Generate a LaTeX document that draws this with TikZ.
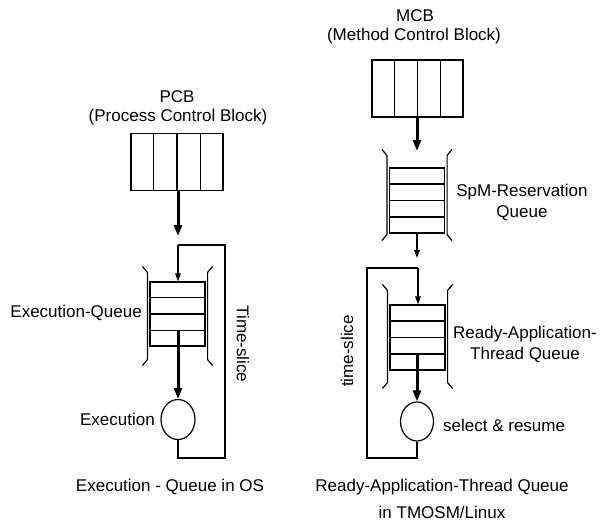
\documentclass[tikz,border=0pt]{standalone}
\usepackage{fontspec}
\setmainfont{Liberation Sans}
\usetikzlibrary{arrows.meta,calc,shapes.geometric}
\tikzset{
  lbl/.style={font=\fontsize{17}{21}\selectfont, inner sep=0pt, align=center},
  blk/.style={draw, line width=1.2pt, inner sep=0pt, minimum width=#1, minimum height=57pt},
  que/.style={draw, line width=1.2pt, inner sep=0pt, minimum width=55pt, minimum height=#1},
  proc/.style={draw, ellipse, line width=1.2pt, inner sep=0pt, minimum width=34pt, minimum height=40pt},
  thin/.style={line width=1.2pt},
  thk/.style={line width=3pt, -{Triangle[length=11pt,width=8pt]}},
  thn/.style={line width=1.4pt, -{Triangle[length=8pt,width=5.5pt]}},
  loopline/.style={line width=1.8pt}
}
\newcommand{\cells}[1]{%
  \foreach \f in {0.25,0.5,0.75}{%
    \draw[thin] ($(#1.north west)!\f!(#1.north east)$) -- ($(#1.south west)!\f!(#1.south east)$);}}
\newcommand{\rows}[1]{%
  \foreach \f in {0.25,0.5,0.75}{%
    \draw[thin] ($(#1.north west)!\f!(#1.south west)$) -- ($(#1.north east)!\f!(#1.south east)$);}}
% #1 node, #2 top extent, #3 bottom extent
\newcommand{\qbr}[3]{%
  \draw[thin] ([xshift=-7pt,yshift=#2pt]#1.north west) -- ([xshift=-2pt,yshift=#2pt-6pt]#1.north west)
     -- ([xshift=-2pt,yshift=-#3pt+6pt]#1.south west) -- ([xshift=-7pt,yshift=-#3pt]#1.south west);
  \draw[thin] ([xshift=7pt,yshift=#2pt]#1.north east) -- ([xshift=2pt,yshift=#2pt-6pt]#1.north east)
     -- ([xshift=2pt,yshift=-#3pt+6pt]#1.south east) -- ([xshift=7pt,yshift=-#3pt]#1.south east);}
\begin{document}
\begin{tikzpicture}[x=1pt,y=-1pt]
\useasboundingbox (0,0) rectangle (600,522);
% ---------- left ----------
\node[lbl] (pcbt) at (177,97) {PCB};
\node[lbl] (pcbs) at (178,117) {(Process Control Block)};
\node[blk=92pt] (pcb) at (177,162) {};
\cells{pcb}
\node[que=64pt] (eq) at (177.5,314) {};
\rows{eq}
\qbr{eq}{15}{19}
\node[proc] (exe) at (178,419.5) {};
\coordinate (pa) at (178,236);
\coordinate (l1) at (178,458);
\coordinate (l2) at (225,458);
\coordinate (l3) at (225,245);
\coordinate (l4) at (178,245);
\draw[thk] (pcb.south -| pa) -- (pa);
\draw[loopline] (exe.south) -- (l1) -- (l2) -- (l3) -- (l4);
\draw[thn] (l4) -- (eq.north -| l4);
\draw[thk] ([yshift=16pt]eq.south -| exe) -- (exe.north);
\node[lbl, anchor=east] (eql) at (142,313) {Execution-Queue};
\node[lbl, anchor=east] (exl) at (155,419) {Execution};
\node[lbl, rotate=-90] (tsl) at (243,344) {Time-slice};
\node[lbl] (capl) at (170,487) {Execution - Queue in OS};
% ---------- right ----------
\node[lbl] (mcbt) at (415,16) {MCB};
\node[lbl] (mcbs) at (414,36) {(Method Control Block)};
\node[blk=91pt] (mcb) at (417.5,88.5) {};
\cells{mcb}
\node[que=65pt] (spm) at (417,200.5) {};
\rows{spm}
\qbr{spm}{18}{7}
\node[que=65pt] (raq) at (417.5,337.5) {};
\rows{raq}
\qbr{raq}{20}{18}
\node[proc, minimum width=33pt, minimum height=39pt] (sel) at (417,421.5) {};
\coordinate (ma) at (417,151);
\coordinate (sa) at (417,258);
\coordinate (r1) at (417,458);
\coordinate (r2) at (367,458);
\coordinate (r3) at (367,268);
\coordinate (r4) at (418,268);
\draw[thk] (mcb.south -| ma) -- (ma);
\draw[thn] (spm.south -| sa) -- (sa);
\draw[loopline] (sel.south) -- (r1) -- (r2) -- (r3) -- (r4);
\draw[thn] (r4) -- (raq.north -| r4);
\draw[thk] ([yshift=16pt]raq.south -| sel) -- (sel.north);
\node[lbl] (spml) at (522,202) {SpM-Reservation\\Queue};
\node[lbl] (raql) at (525,344) {Ready-Application-\\Thread Queue};
\node[lbl, anchor=west] (sell) at (443,425) {select \& resume};
\node[lbl, rotate=90] (tsr) at (347,351) {time-slice};
\node[lbl] (capr) at (442,487) {Ready-Application-Thread Queue};
\node[lbl] (capr2) at (442,512) {in TMOSM/Linux};
\end{tikzpicture}
\end{document}
